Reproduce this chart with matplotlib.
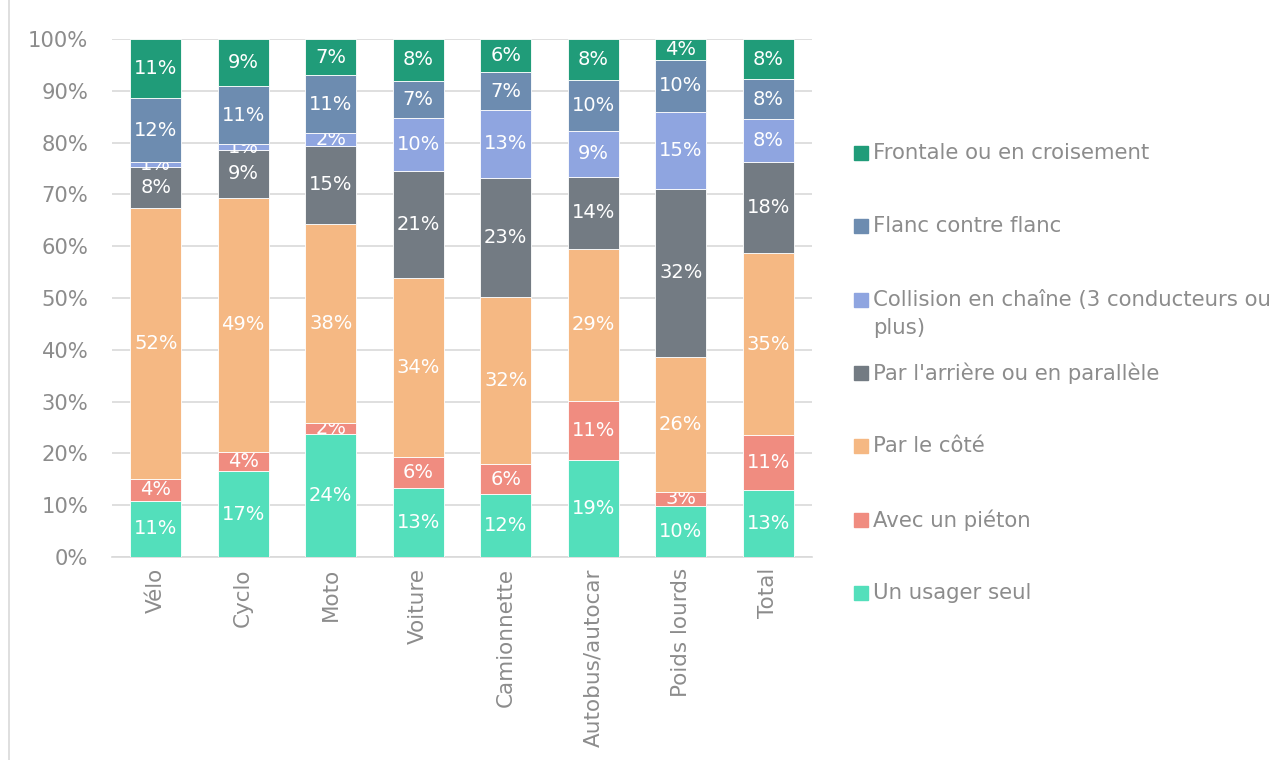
import matplotlib
matplotlib.use("Agg")
import matplotlib.pyplot as plt
import numpy as np
from matplotlib.patches import Rectangle
from matplotlib.lines import Line2D

plt.rcParams['font.family'] = ['DejaVu Sans']

categories = ["Vélo", "Cyclo", "Moto", "Voiture", "Camionnette",
              "Autobus/autocar", "Poids lourds", "Total"]

# stacking order bottom -> top
series_names = ["Un usager seul", "Avec un piéton", "Par le côté",
                "Par l'arrière ou en parallèle",
                "Collision en chaîne (3 conducteurs ou plus)",
                "Flanc contre flanc", "Frontale ou en croisement"]

usager_seul = [10.9, 16.6, 23.8, 13.4, 12.1, 18.7, 9.9, 12.9]
avec_pieton = [4.2, 3.7, 2.1, 6.0, 5.9, 11.4, 2.6, 10.6]
par_le_cote = [52.2, 49.0, 38.4, 34.4, 32.2, 29.4, 26.2, 35.1]
par_arriere = [8.0, 9.3, 15.1, 20.7, 23.0, 13.9, 32.4, 17.6]
collision_chaine = [0.9, 1.1, 2.4, 10.3, 13.1, 8.8, 14.8, 8.4]
flanc_flanc = [12.4, 11.2, 11.2, 7.1, 7.3, 9.9, 10.1, 7.6]
frontale = [11.4, 9.1, 7.0, 8.1, 6.4, 7.9, 4.0, 7.8]

colors = ["#53DFBB", "#F08C80", "#F5B883", "#737B83", "#8FA5E0",
          "#6D8CB0", "#209C79"]

yticks = [0, 10, 20, 30, 40, 50, 60, 70, 80, 90, 100]

data = [usager_seul, avec_pieton, par_le_cote, par_arriere,
        collision_chaine, flanc_flanc, frontale]

W, H = 1285, 760
fig = plt.figure(figsize=(W / 100, H / 100), dpi=100)
ax = fig.add_axes([112 / W, 1 - 557 / H, 700 / W, 518 / H])

grey = "#8C8C8C"
x = np.arange(len(categories))
bottom = np.zeros(len(categories))
for vals, col, name in zip(data, colors, series_names):
    vals = np.array(vals)
    bars = ax.bar(x, vals, width=0.58, bottom=bottom, color=col,
                  edgecolor="white", linewidth=0.6, label=name, zorder=3)
    ax.bar_label(bars, labels=[f"{v:.0f}%" for v in vals],
                 label_type="center", color="white", fontsize=14)
    bottom += vals

ax.set_xlim(-0.5, len(categories) - 0.5)
ax.set_ylim(0, 100)
ax.set_yticks(yticks)
ax.set_yticklabels([f"{t}%" for t in yticks])
ax.yaxis.grid(True, color="#D9D9D9", linewidth=1.2, zorder=0)
ax.set_axisbelow(True)
for s in ["left", "right", "top"]:
    ax.spines[s].set_visible(False)
ax.spines["bottom"].set_color("#D9D9D9")
ax.spines["bottom"].set_linewidth(1.2)
ax.tick_params(axis="y", length=0, pad=17, labelsize=15.2, labelcolor=grey)
ax.tick_params(axis="x", length=0, pad=8, labelsize=15.5, labelcolor=grey)
ax.set_xticks(x)
ax.set_xticklabels(categories, rotation=90)

# legend (top entry first), drawn manually to mimic Excel layout
legend_y = [153, 226, 300, 373, 446, 520, 593]
legend_labels = ["Frontale ou en croisement", "Flanc contre flanc",
                 "Collision en chaîne (3 conducteurs ou\nplus)",
                 "Par l'arrière ou en parallèle", "Par le côté",
                 "Avec un piéton", "Un usager seul"]
legend_cols = colors[::-1]
for yy, lab, col in zip(legend_y, legend_labels, legend_cols):
    fig.patches.append(Rectangle((854 / W, 1 - (yy + 7) / H), 14 / W, 14 / H,
                                 transform=fig.transFigure, color=col))
    if "\n" in lab:
        fig.text(873 / W, 1 - (yy - 10) / H, lab, color=grey, fontsize=15.3,
                 va="top", ha="left", linespacing=1.5)
    else:
        fig.text(873 / W, 1 - yy / H, lab, color=grey, fontsize=15.3,
                 va="center", ha="left")

fig.lines.append(Line2D([9 / W, 9 / W], [0, 1], transform=fig.transFigure,
                        color="#D9D9D9", linewidth=1.2))

fig.savefig("out.png", dpi=100)
